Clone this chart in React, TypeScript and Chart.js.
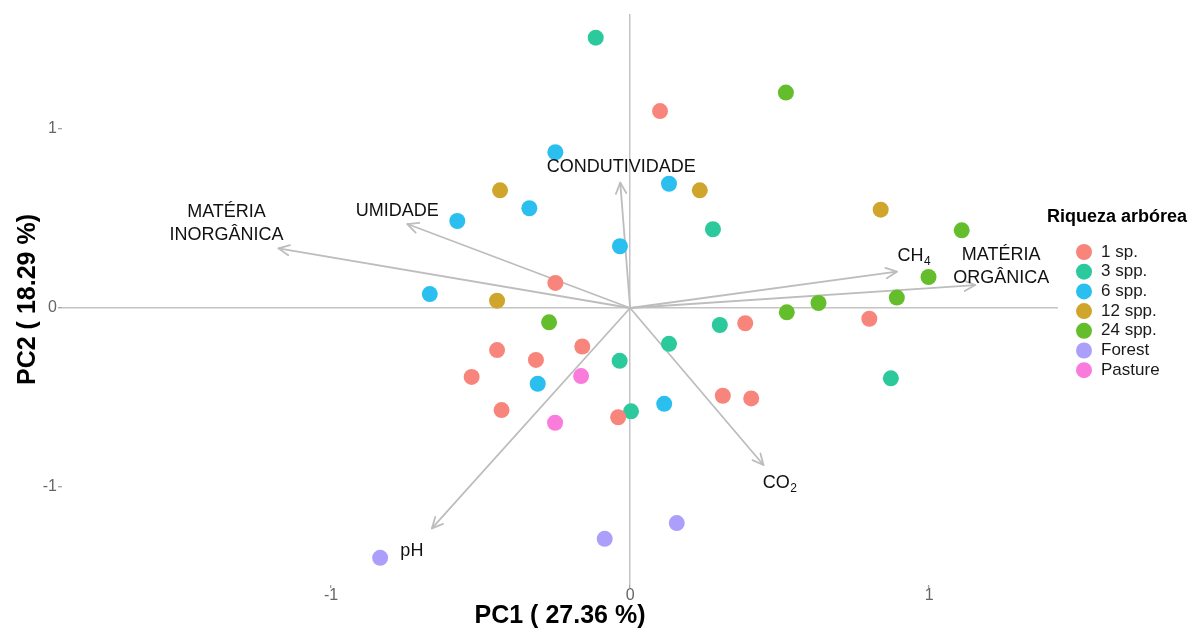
import React, { useEffect, useRef } from "react";
import { Chart, registerables } from "chart.js";

Chart.register(...registerables);

// ---------------- DATA ----------------
const groupNames = ["1 sp.", "3 spp.", "6 spp.", "12 spp.", "24 spp.", "Forest", "Pasture"];
const groupColors = ["#F8857C", "#2CC99D", "#2BBFEF", "#D0A52B", "#64BE2C", "#AC9EFB", "#F97BDC"];

const pc1_1sp = [0.1, -0.25, 0.385, 0.8, -0.16, -0.445, -0.315, -0.53, -0.43, 0.31, 0.405, -0.04];
const pc2_1sp = [1.1, 0.14, -0.085, -0.06, -0.215, -0.235, -0.29, -0.385, -0.57, -0.49, -0.505, -0.61];

const pc1_3spp = [-0.115, 0.277, 0.3, 0.13, -0.035, 0.003, 0.872];
const pc2_3spp = [1.51, 0.44, -0.095, -0.2, -0.295, -0.577, -0.393];

const pc1_6spp = [-0.25, 0.13, -0.337, -0.578, -0.034, -0.67, -0.309, 0.114];
const pc2_6spp = [0.87, 0.694, 0.557, 0.486, 0.345, 0.078, -0.423, -0.535];

const pc1_12spp = [-0.435, 0.233, -0.445, 0.838];
const pc2_12spp = [0.657, 0.657, 0.041, 0.549];

const pc1_24spp = [0.521, 1.109, 0.998, 0.892, 0.63, 0.524, -0.271];
const pc2_24spp = [1.203, 0.434, 0.173, 0.058, 0.028, -0.024, -0.08];

const pc1_forest = [-0.836, -0.085, 0.156];
const pc2_forest = [-1.395, -1.289, -1.201];

const pc1_pasture = [-0.164, -0.251];
const pc2_pasture = [-0.38, -0.641];

const groupPC1 = [pc1_1sp, pc1_3spp, pc1_6spp, pc1_12spp, pc1_24spp, pc1_forest, pc1_pasture];
const groupPC2 = [pc2_1sp, pc2_3spp, pc2_6spp, pc2_12spp, pc2_24spp, pc2_forest, pc2_pasture];

// variable loadings (arrows)
const arrowLabels = [
  ["MATÉRIA", "INORGÂNICA"],
  ["UMIDADE"],
  ["CONDUTIVIDADE"],
  ["CH"],
  ["MATÉRIA", "ORGÂNICA"],
  ["CO"],
  ["pH"],
];
const arrowSubscripts = ["", "", "", "4", "", "2", ""];
const arrowPC1 = [-1.176, -0.745, -0.033, 0.892, 1.154, 0.446, -0.663];
const arrowPC2 = [0.333, 0.469, 0.7, 0.203, 0.128, -0.877, -1.231];

const axisTicks = [-1, 0, 1];
const xTitle = "PC1 ( 27.36 %)";
const yTitle = "PC2 ( 18.29 %)";
const legendTitle = "Riqueza arbórea";

// ---------------- STYLE ----------------
const FONT = "'Liberation Sans', Arial, Helvetica, sans-serif";
const ARROW_COLOR = "#BDBDBD";
// pixel offsets of each arrow label from its arrow tip
const labelOffsets: [number, number][] = [
  [-52, -25],
  [-10, -13],
  [1, -16],
  [17, -16],
  [26, -18.5],
  [16, 18],
  [-20, 23],
];

const biplotPlugin = {
  id: "biplot",
  beforeDatasetsDraw(chart: any) {
    const { ctx, scales } = chart;
    const xs = scales.x;
    const ys = scales.y;
    const x0 = xs.getPixelForValue(0);
    const y0 = ys.getPixelForValue(0);
    ctx.save();
    ctx.strokeStyle = ARROW_COLOR;
    ctx.lineWidth = 1.8;
    ctx.lineCap = "round";
    ctx.lineJoin = "round";
    for (let i = 0; i < arrowPC1.length; i++) {
      const tx = xs.getPixelForValue(arrowPC1[i]);
      const ty = ys.getPixelForValue(arrowPC2[i]);
      ctx.beginPath();
      ctx.moveTo(x0, y0);
      ctx.lineTo(tx, ty);
      ctx.stroke();
      const ang = Math.atan2(ty - y0, tx - x0);
      const L = 12;
      const a = Math.PI / 7;
      ctx.beginPath();
      ctx.moveTo(tx - L * Math.cos(ang - a), ty - L * Math.sin(ang - a));
      ctx.lineTo(tx, ty);
      ctx.lineTo(tx - L * Math.cos(ang + a), ty - L * Math.sin(ang + a));
      ctx.stroke();
    }
    ctx.restore();
  },
  afterDatasetsDraw(chart: any) {
    const { ctx, scales } = chart;
    const xs = scales.x;
    const ys = scales.y;
    ctx.save();
    ctx.fillStyle = "#111";
    ctx.textBaseline = "middle";
    for (let i = 0; i < arrowPC1.length; i++) {
      const tx = xs.getPixelForValue(arrowPC1[i]);
      const ty = ys.getPixelForValue(arrowPC2[i]);
      const cx = tx + labelOffsets[i][0];
      const cy = ty + labelOffsets[i][1];
      const lines = arrowLabels[i];
      const n = lines.length;
      for (let j = 0; j < n; j++) {
        const ly = cy + (j - (n - 1) / 2) * 23;
        ctx.font = `18px ${FONT}`;
        const wm = ctx.measureText(lines[j]).width;
        const sub = arrowSubscripts[i];
        let ws = 0;
        if (sub) {
          ctx.font = `12px ${FONT}`;
          ws = ctx.measureText(sub).width;
        }
        const left = cx - (wm + ws) / 2;
        ctx.font = `18px ${FONT}`;
        ctx.textAlign = "left";
        ctx.fillText(lines[j], left, ly);
        if (sub) {
          ctx.font = `12px ${FONT}`;
          ctx.fillText(sub, left + wm + 0.5, ly + 6);
        }
      }
    }
    ctx.restore();
  },
  afterDraw(chart: any) {
    const { ctx } = chart;
    ctx.save();
    ctx.textBaseline = "middle";
    ctx.textAlign = "left";
    ctx.fillStyle = "#000";
    ctx.font = `bold 18px ${FONT}`;
    ctx.fillText(legendTitle, 1047, 217);
    for (let i = 0; i < groupNames.length; i++) {
      const yy = 252 + i * 19.7;
      ctx.beginPath();
      ctx.fillStyle = groupColors[i];
      ctx.arc(1084, yy, 8, 0, Math.PI * 2);
      ctx.fill();
      ctx.fillStyle = "#1a1a1a";
      ctx.font = `17px ${FONT}`;
      ctx.fillText(groupNames[i], 1101, yy);
    }
    ctx.restore();
  },
};

export default function App() {
  const canvasRef = useRef<HTMLCanvasElement | null>(null);

  useEffect(() => {
    if (!canvasRef.current) return;
    const datasets = groupNames.map((name, g) => ({
      label: name,
      data: groupPC1[g].map((v, k) => ({ x: v, y: groupPC2[g][k] })),
      backgroundColor: groupColors[g],
      borderColor: groupColors[g],
      borderWidth: 0,
      pointRadius: 8,
      pointHoverRadius: 8,
    }));

    const gridColor = (c: any) =>
      c.tick && c.tick.value === 0 ? "#C4C4C4" : "rgba(0,0,0,0)";

    const chart = new Chart(canvasRef.current, {
      type: "scatter",
      data: { datasets },
      plugins: [biplotPlugin],
      options: {
        animation: false,
        responsive: false,
        maintainAspectRatio: false,
        layout: { padding: { left: 0, right: 132, top: 14, bottom: 0 } },
        plugins: {
          legend: { display: false },
          tooltip: { enabled: false },
        },
        scales: {
          x: {
            type: "linear",
            min: -1.9,
            max: 1.431,
            afterBuildTicks: (s: any) => {
              s.ticks = axisTicks.map((v) => ({ value: v }));
            },
            afterFit: (s: any) => {
              s.height = 44;
            },
            border: { display: false },
            grid: {
              color: gridColor,
              lineWidth: 1.5,
              drawTicks: true,
              tickLength: 3,
              tickColor: "#888",
              tickWidth: 1,
            },
            ticks: {
              color: "#666",
              padding: 0,
              font: { family: FONT, size: 16, lineHeight: 1 },
            },
            title: {
              display: true,
              text: xTitle,
              color: "#000",
              padding: { top: 0, bottom: 0 },
              font: { family: FONT, size: 25, weight: "bold", lineHeight: 1 },
            },
          },
          y: {
            type: "linear",
            min: -1.547,
            max: 1.642,
            afterBuildTicks: (s: any) => {
              s.ticks = axisTicks.map((v) => ({ value: v }));
            },
            afterFit: (s: any) => {
              s.width = 62;
            },
            border: { display: false },
            grid: {
              color: gridColor,
              lineWidth: 1.5,
              drawTicks: true,
              tickLength: 4,
              tickColor: "#888",
              tickWidth: 1,
            },
            ticks: {
              color: "#666",
              padding: 1,
              font: { family: FONT, size: 16 },
            },
            title: {
              display: true,
              text: yTitle,
              color: "#000",
              padding: { top: 13, bottom: 0 },
              font: { family: FONT, size: 25, weight: "bold", lineHeight: 1.2 },
            },
          },
        },
      } as any,
    });
    return () => chart.destroy();
  }, []);

  return (
    <div style={{ position: "fixed", left: 0, top: 0, width: 1190, height: 629, background: "#fff" }}>
      <canvas ref={canvasRef} width={1190} height={629} style={{ display: "block" }} />
    </div>
  );
}
